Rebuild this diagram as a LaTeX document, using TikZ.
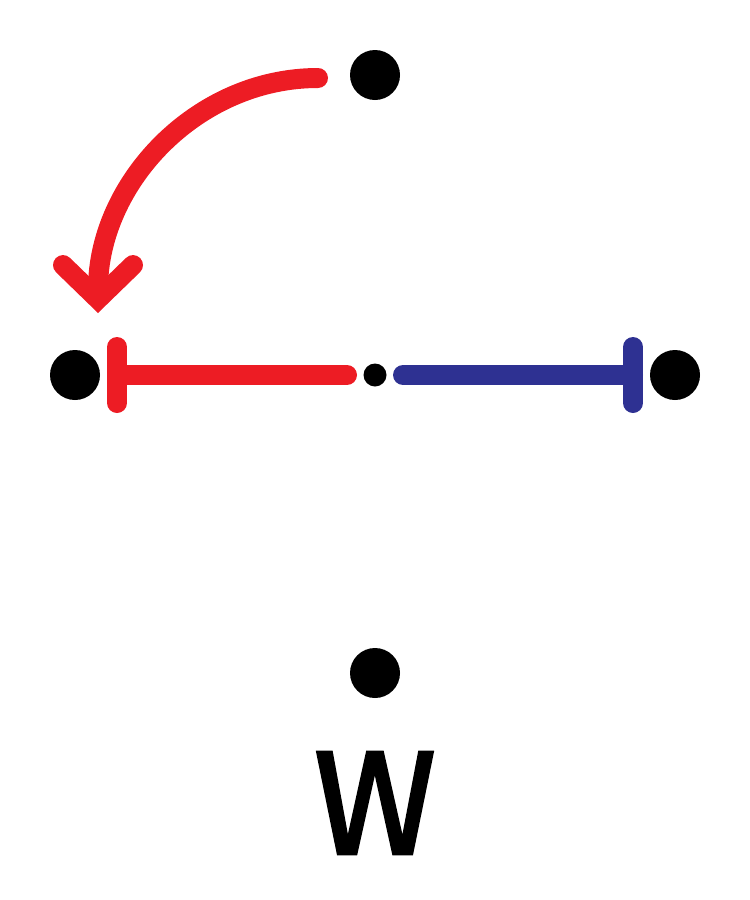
\documentclass[tikz,border=0pt]{standalone}
\usepackage{fontspec}
\newfontfamily\wfont[FakeBold=2]{Fira Sans}
\usetikzlibrary{arrows.meta,calc}
\definecolor{myred}{HTML}{ED1C24}
\definecolor{myblue}{HTML}{2E3192}
\begin{document}
\begin{tikzpicture}[x=1pt,y=-1pt,
  dot/.style={circle,fill=black,inner sep=0pt,minimum size=50pt},
  smalldot/.style={circle,fill=black,inner sep=0pt,minimum size=23pt},
  redstroke/.style={draw=myred,line width=20pt,line cap=round},
  bluestroke/.style={draw=myblue,line width=20pt,line cap=round},
  wlabel/.style={font=\wfont\fontsize{148}{148}\selectfont,inner sep=0pt,anchor=base}]
\useasboundingbox (0,0) rectangle (750,900);
\node[dot] (top) at (375,75) {};
\node[dot] (left) at (75,375) {};
\node[dot] (right) at (675,375) {};
\node[smalldot] (mid) at (375,375) {};
\node[dot] (bottom) at (375,673) {};
\node[wlabel] (w) at (375,854) {W};
% red bar connector
\coordinate (redbar) at (117,375);
\coordinate (redend) at (347,375);
\draw[redstroke] (redend) -- (redbar);
\draw[redstroke] ($(redbar)+(0,-28)$) -- ($(redbar)+(0,28)$);
% blue bar connector
\coordinate (bluebar) at (633,375);
\coordinate (bluestart) at (403,375);
\draw[bluestroke] (bluestart) -- (bluebar);
\draw[bluestroke] ($(bluebar)+(0,-28)$) -- ($(bluebar)+(0,28)$);
% curved arrow
\coordinate (arcstart) at (318,78);
\draw[redstroke,-{Straight Barb[length=34pt,width=70pt,line join=miter,line cap=round]}]
  (arcstart) arc[start angle=270,end angle=180,x radius=220,y radius=235];
\end{tikzpicture}
\end{document}
